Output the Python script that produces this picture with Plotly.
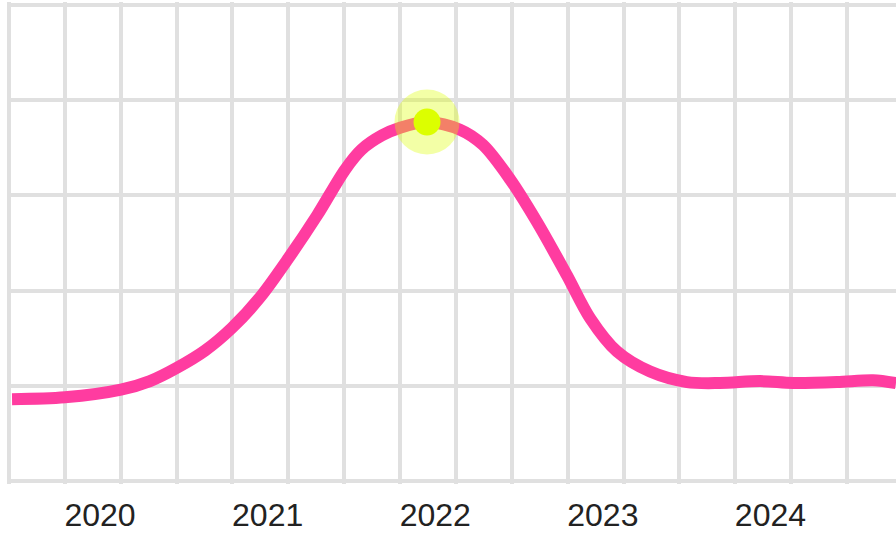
import plotly.graph_objects as go

# ---- data ----
years = [2019.475, 2019.791, 2020.125, 2020.298, 2020.459, 2020.626, 2020.788, 2020.955,
         2021.116, 2021.295, 2021.462, 2021.560, 2021.683, 2021.790, 2021.951, 2022.148,
         2022.285, 2022.446, 2022.607, 2022.786, 2022.924, 2023.085, 2023.282, 2023.502,
         2023.699, 2023.938, 2024.135, 2024.397, 2024.612, 2024.749]
values = [0.86, 0.88, 0.96, 1.05, 1.19, 1.37, 1.61, 1.93,
          2.32, 2.79, 3.27, 3.48, 3.63, 3.71, 3.77, 3.69,
          3.53, 3.17, 2.72, 2.16, 1.71, 1.36, 1.15, 1.04,
          1.03, 1.05, 1.03, 1.04, 1.06, 1.03]
peak_year = [2021.951]
peak_value = [3.77]
tick_years = [2020, 2021, 2022, 2023, 2024]
tick_labels = ["2020", "2021", "2022", "2023", "2024"]

# ---- layout helpers ----
X0 = 2019.457          # left grid line
X1 = 2024.749          # right edge
grid_x = [X0 + k / 3 for k in range(0, 17)]

GRID = "#e0e0e0"
PINK = "#ff3ca0"
LIME = "#dcff00"

fig = go.Figure()
fig.add_trace(go.Scatter(
    x=years, y=values, mode="lines",
    line=dict(color=PINK, width=12, shape="spline", smoothing=0.9),
    hoverinfo="skip", showlegend=False,
))
fig.add_trace(go.Scatter(
    x=peak_year, y=peak_value, mode="markers",
    marker=dict(size=65, color=LIME, opacity=0.35, line=dict(width=0)),
    hoverinfo="skip", showlegend=False,
))
fig.add_trace(go.Scatter(
    x=peak_year, y=peak_value, mode="markers",
    marker=dict(size=27, color=LIME, line=dict(width=0)),
    hoverinfo="skip", showlegend=False,
))

fig.update_layout(
    width=896, height=533,
    margin=dict(l=7, r=0, t=2, b=49),
    paper_bgcolor="white", plot_bgcolor="white",
    font=dict(family="Liberation Sans, Arial, sans-serif", size=32, color="#222222"),
    xaxis=dict(
        range=[X0 - 0.012, X1],
        tickmode="array", tickvals=tick_years, ticktext=tick_labels,
        showgrid=False, zeroline=False, showline=False,
        ticks="outside", ticklen=3, tickcolor="rgba(0,0,0,0)",
        tickfont=dict(size=32, color="#222222"),
        minor=dict(tickmode="array", tickvals=grid_x, showgrid=True,
                   gridcolor=GRID, gridwidth=3.5, ticks=""),
        fixedrange=True,
    ),
    yaxis=dict(
        range=[-0.03, 5.03],
        tickmode="array", tickvals=[0, 1, 2, 3, 4, 5],
        showticklabels=False, showgrid=True, gridcolor=GRID, gridwidth=3.5,
        zeroline=False, showline=False, fixedrange=True,
    ),
)

fig.write_html(
    "out.html",
    config={"displayModeBar": False},
    post_script="document.body.style.margin='0';document.body.style.overflow='hidden';",
)
